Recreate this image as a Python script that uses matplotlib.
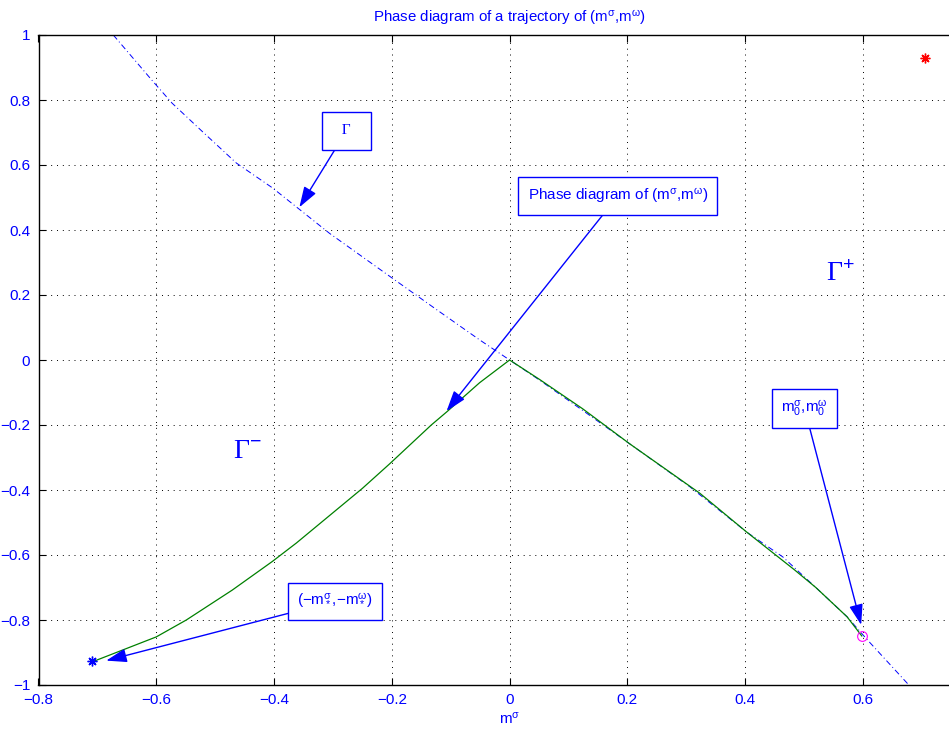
import matplotlib
matplotlib.use("Agg")
import matplotlib.pyplot as plt

plt.rcParams['font.family'] = ['Liberation Sans', 'DejaVu Sans']
plt.rcParams['mathtext.fontset'] = 'custom'
plt.rcParams['mathtext.rm'] = 'Liberation Sans'
plt.rcParams['mathtext.it'] = 'Liberation Sans'

# Curve Gamma (dash-dot)
gamma_x = [-0.673, -0.607, -0.573, -0.520, -0.464, -0.403, -0.360, -0.306, -0.204, -0.124, -0.051, 0.0,
           0.051, 0.124, 0.204, 0.306, 0.360, 0.403, 0.464, 0.520, 0.573, 0.607, 0.678]
gamma_y = [1.000, 0.860, 0.790, 0.700, 0.606, 0.530, 0.468, 0.390, 0.258, 0.155, 0.062, 0.0,
           -0.062, -0.155, -0.258, -0.390, -0.468, -0.530, -0.606, -0.700, -0.790, -0.860, -1.000]

# Trajectory (m^sigma, m^omega)
traj_x = [0.598, 0.573, 0.520, 0.484, 0.403, 0.323, 0.204, 0.124, 0.051, 0.0,
          -0.051, -0.107, -0.133, -0.204, -0.250, -0.362, -0.403, -0.471, -0.549, -0.600, -0.709]
traj_y = [-0.849, -0.790, -0.700, -0.646, -0.530, -0.410, -0.258, -0.150, -0.060, 0.0,
          -0.070, -0.160, -0.200, -0.320, -0.395, -0.563, -0.620, -0.708, -0.800, -0.852, -0.929]

start_pt = (0.598, -0.849)
end_pt = (-0.709, -0.927)
red_pt = (0.706, 0.929)

xticks = [-0.8, -0.6, -0.4, -0.2, 0, 0.2, 0.4, 0.6]
yticks = [-1, -0.8, -0.6, -0.4, -0.2, 0, 0.2, 0.4, 0.6, 0.8, 1]

fig = plt.figure(figsize=(9.49, 7.33), dpi=100)
ax = fig.add_axes([38.5 / 949, 48 / 733, (980.7 - 38.5) / 949, 650 / 733])
ax.set_xlim(-0.8, 0.8)
ax.set_ylim(-1, 1)

blue = (0, 0, 1)
ax.plot(gamma_x, gamma_y, color=blue, lw=0.7, linestyle=(0, (6, 3, 1, 3)), zorder=2)
ax.plot(traj_x, traj_y, color=(0, 0.5, 0), lw=0.9, zorder=3)
ax.plot(*end_pt, marker=(8, 2, 0), color=blue, ms=7, mew=1.0, zorder=4)
ax.plot(*start_pt, marker='o', mfc='none', mec='magenta', ms=7, mew=0.8, zorder=4)
ax.plot(*red_pt, marker=(8, 2, 0), color='red', ms=7, mew=1.0, zorder=4)

ax.set_xticks(xticks)
ax.set_yticks(yticks)
ax.set_xticklabels([('%g' % v).replace('-', '\u2212') for v in xticks])
ax.set_yticklabels([('%g' % v).replace('-', '\u2212') for v in yticks])
ax.tick_params(direction='in', top=True, right=True, labelsize=11, labelcolor=blue,
               length=5, width=0.8, pad=6)
ax.grid(True, color='black', linestyle=(0, (1, 5)), lw=0.7)
for s in ax.spines.values():
    s.set_linewidth(1.0)

ax.set_title('Phase diagram of a trajectory of (m$^{\\sigma}$,m$^{\\omega}$)',
             color=blue, fontsize=10.8, pad=9)
ax.set_xlabel('m$^{\\sigma}$', color=blue, fontsize=11, labelpad=2)

box = dict(boxstyle='square,pad=0.6', fc='white', ec=blue, lw=1.0)
arrow = dict(arrowstyle='-|>,head_length=0.9,head_width=0.3', color=blue, lw=1.0,
             shrinkA=0, shrinkB=0, mutation_scale=14)

ax.annotate('  \u0393  ', xy=(-0.357, 0.47), xytext=(-0.277, 0.705), fontsize=11,
            family='Liberation Serif', color=blue, ha='center', va='center',
            bbox=dict(boxstyle='square,pad=0.8', fc='white', ec=blue, lw=1.0),
            arrowprops=arrow, zorder=6)
ax.annotate('Phase diagram of (m$^{\\sigma}$,m$^{\\omega}$)', xy=(-0.107, -0.157),
            xytext=(0.184, 0.505), fontsize=11, color=blue, ha='center', va='center',
            bbox=box, arrowprops=arrow, zorder=6)
ax.annotate('m$_0^{\\sigma}$,m$_0^{\\omega}$', xy=(0.597, -0.815), xytext=(0.501, -0.150),
            fontsize=11, color=blue, ha='center', va='center',
            bbox=box, arrowprops=arrow, zorder=6)
ax.annotate('(\u2212m$_*^{\\sigma}$,\u2212m$_*^{\\omega}$)', xy=(-0.685, -0.925),
            xytext=(-0.296, -0.742), fontsize=11, color=blue, ha='center', va='center',
            bbox=box, arrowprops=arrow, zorder=6)

ax.text(-0.445, -0.283, '\u0393$^{-}$', fontsize=20, family='Liberation Serif',
        color=blue, ha='center', va='center')
ax.text(0.561, 0.265, '\u0393$^{+}$', fontsize=20, family='Liberation Serif',
        color=blue, ha='center', va='center')

fig.savefig('out.png', dpi=100)
